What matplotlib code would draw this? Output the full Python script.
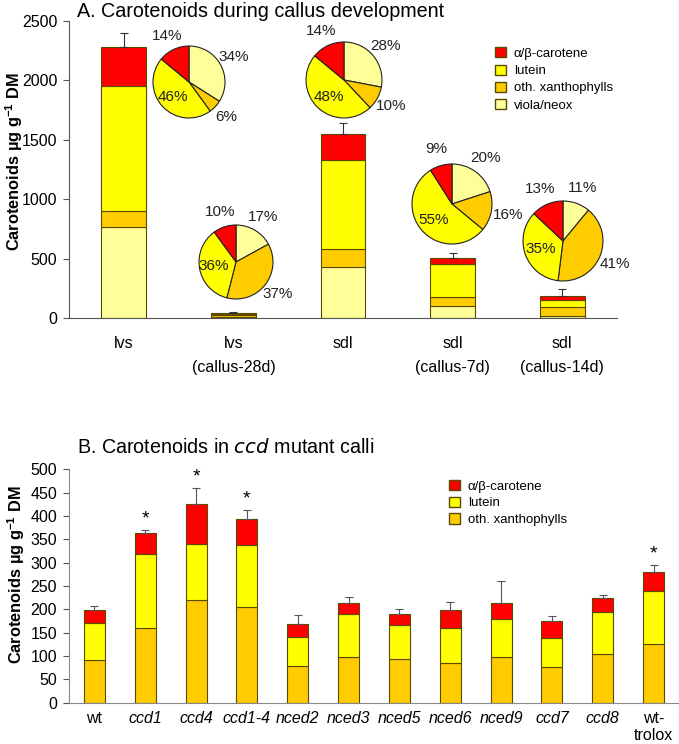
import numpy as np
import matplotlib.pyplot as plt
from matplotlib.patches import Patch

plt.rcParams['font.family'] = ['Liberation Sans', 'DejaVu Sans']

# === Data, panel A ===
stades = ["lvs", "lvs\n(callus-28d)", "sdl", "sdl\n(callus-7d)", "sdl\n(callus-14d)"]
viola_neox = [768, 7, 429, 100, 18]
oth_xanth = [132, 15, 152, 77, 77]
lutein = [1055, 14, 749, 278, 56]
carotene = [323, 4, 219, 47, 32]
err_top_a = [2400, 50, 1644, 545, 242]

# pie percentages, order : viola/neox, oth. xanth, lutein, carotene
pies_pct = [
    [34, 6, 46, 14],
    [17, 37, 36, 10],
    [28, 10, 48, 14],
    [20, 16, 55, 9],
    [11, 41, 35, 13],
]

# === Data, panel B ===
mutants = ["wt", "ccd1", "ccd4", "ccd1-4", "nced2", "nced3", "nced5", "nced6",
           "nced9", "ccd7", "ccd8", "wt-\ntrolox"]
oth_b = [92, 161, 219, 206, 78, 98, 94, 85, 98, 77, 104, 126]
lut_b = [79, 158, 120, 132, 63, 91, 72, 74, 81, 62, 90, 114]
car_b = [28, 45, 87, 55, 27, 25, 24, 39, 34, 35, 30, 39]
err_top_b = [208, 371, 461, 413, 187, 227, 201, 215, 260, 185, 230, 296]
etoiles = [False, True, True, True, False, False, False, False, False, False, False, True]

c_car = '#FF0000'
c_lut = '#FFFF00'
c_oth = '#FFCC00'
c_vio = '#FFFF99'
bord = '#5a4a00'

W, H = 679, 744
fig = plt.figure(figsize=(W / 100, H / 100), dpi=100)

def px_axes(x0, y_top, x1, y_bot):
    return fig.add_axes([x0 / W, 1 - y_bot / H, (x1 - x0) / W, (y_bot - y_top) / H])

ylab = "Carotenoids µg g$^{\\mathregular{-1}}$ DM"

# === Panel A ===
axA = px_axes(69, 21, 617, 318)
x = np.arange(len(stades))
bw = 0.41
bas = np.zeros(len(stades))
for vals, col in [(viola_neox, c_vio), (oth_xanth, c_oth), (lutein, c_lut), (carotene, c_car)]:
    axA.bar(x, vals, bw, bottom=bas, color=col, edgecolor=bord, linewidth=0.8)
    bas = bas + np.array(vals)
axA.errorbar(x, bas, yerr=[np.zeros(len(x)), np.array(err_top_a) - bas], fmt='none',
             ecolor='#333333', elinewidth=0.8, capsize=3, capthick=0.8)
axA.set_xlim(-0.5, 4.5)
axA.set_ylim(0, 2500)
axA.set_yticks(np.arange(0, 2501, 500))
axA.set_xticks(x)
axA.set_xticklabels(stades, fontsize=11.5, linespacing=1.75)
axA.tick_params(axis='x', length=0, pad=13)
axA.tick_params(axis='y', labelsize=11.5, length=4.5, pad=4, color='#555555')
for s in ['top', 'right']:
    axA.spines[s].set_visible(False)
for s in ['left', 'bottom']:
    axA.spines[s].set_color('#555555')
axA.set_ylabel(ylab, fontsize=11.8, fontweight='bold')
axA.yaxis.set_label_coords(-0.081, 0.527)
fig.text(77 / W, 1 - 2 / H, "A. Carotenoids during callus development", fontsize=14.2,
         va='top', ha='left')

axA.legend(handles=[Patch(facecolor=c_car, edgecolor=bord, label="α/β-carotene"),
                    Patch(facecolor=c_lut, edgecolor=bord, label="lutein"),
                    Patch(facecolor=c_oth, edgecolor=bord, label="oth. xanthophylls"),
                    Patch(facecolor=c_vio, edgecolor=bord, label="viola/neox")],
           loc='upper left', bbox_to_anchor=(490 / W, 1 - 42 / H), bbox_transform=fig.transFigure,
           frameon=False, fontsize=9.5, handlelength=0.8, handleheight=0.8,
           handletextpad=0.6, labelspacing=0.35, borderaxespad=0)

# pies (centre x, centre y, rayon en pixels)
pos_pies = [(189, 82, 36), (236, 262, 37), (344, 80, 38), (452, 204, 40), (563, 241, 40)]
for pct, (cx, cy, r) in zip(pies_pct, pos_pies):
    axp = px_axes(cx - r, cy - r, cx + r, cy + r)
    wedges, _ = axp.pie(pct, colors=[c_vio, c_oth, c_lut, c_car], startangle=90,
                        counterclock=False,
                        wedgeprops=dict(edgecolor='#222222', linewidth=0.8))
    for k, w in enumerate(wedges):
        ang = np.deg2rad((w.theta1 + w.theta2) / 2)
        d = 0.6 if k == 2 else 1.42
        axp.text(d * np.cos(ang), d * np.sin(ang), f"{pct[k]}%", ha='center', va='center',
                 fontsize=11, color='#222222')
    axp.set_xlim(-1, 1)
    axp.set_ylim(-1, 1)
    axp.set_aspect('equal')
    axp.axis('off')

# === Panel B ===
axB = px_axes(69, 469.3, 679, 702.7)
xb = np.arange(len(mutants))
bas = np.zeros(len(mutants))
for vals, col in [(oth_b, c_oth), (lut_b, c_lut), (car_b, c_car)]:
    axB.bar(xb, vals, bw, bottom=bas, color=col, edgecolor=bord, linewidth=0.8)
    bas = bas + np.array(vals)
axB.errorbar(xb, bas, yerr=[np.zeros(len(xb)), np.array(err_top_b) - bas], fmt='none',
             ecolor='#555555', elinewidth=0.8, capsize=3, capthick=0.8)
for i, e in enumerate(etoiles):
    if e:
        axB.text(xb[i], err_top_b[i] + 5, "*", ha='center', va='bottom', fontsize=14)
axB.set_xlim(-0.5, 11.5)
axB.set_ylim(0, 500)
axB.set_yticks(np.arange(0, 501, 50))
axB.set_xticks(xb)
axB.set_xticklabels(mutants, fontsize=11.5)
for i, lab in enumerate(axB.get_xticklabels()):
    if not mutants[i].startswith("wt"):
        lab.set_fontstyle('italic')
axB.tick_params(axis='x', length=0, pad=6)
axB.tick_params(axis='y', labelsize=11.5, length=4.5, pad=4, color='#555555')
for s in ['top', 'right']:
    axB.spines[s].set_visible(False)
for s in ['left', 'bottom']:
    axB.spines[s].set_color('#888888')
axB.set_ylabel(ylab, fontsize=11.8, fontweight='bold')
axB.yaxis.set_label_coords(-0.069, 0.547)
fig.text(77 / W, 1 - 453 / H, "B. Carotenoids in $\\it{ccd}$ mutant calli", fontsize=14.2,
         va='baseline', ha='left')

axB.legend(handles=[Patch(facecolor=c_car, edgecolor=bord, label="α/β-carotene"),
                    Patch(facecolor=c_lut, edgecolor=bord, label="lutein"),
                    Patch(facecolor=c_oth, edgecolor=bord, label="oth. xanthophylls")],
           loc='upper left', bbox_to_anchor=(444 / W, 1 - 475 / H), bbox_transform=fig.transFigure,
           frameon=False, fontsize=9.5, handlelength=0.8, handleheight=0.8,
           handletextpad=0.6, labelspacing=0.3, borderaxespad=0)

plt.savefig("out.png", dpi=100)
